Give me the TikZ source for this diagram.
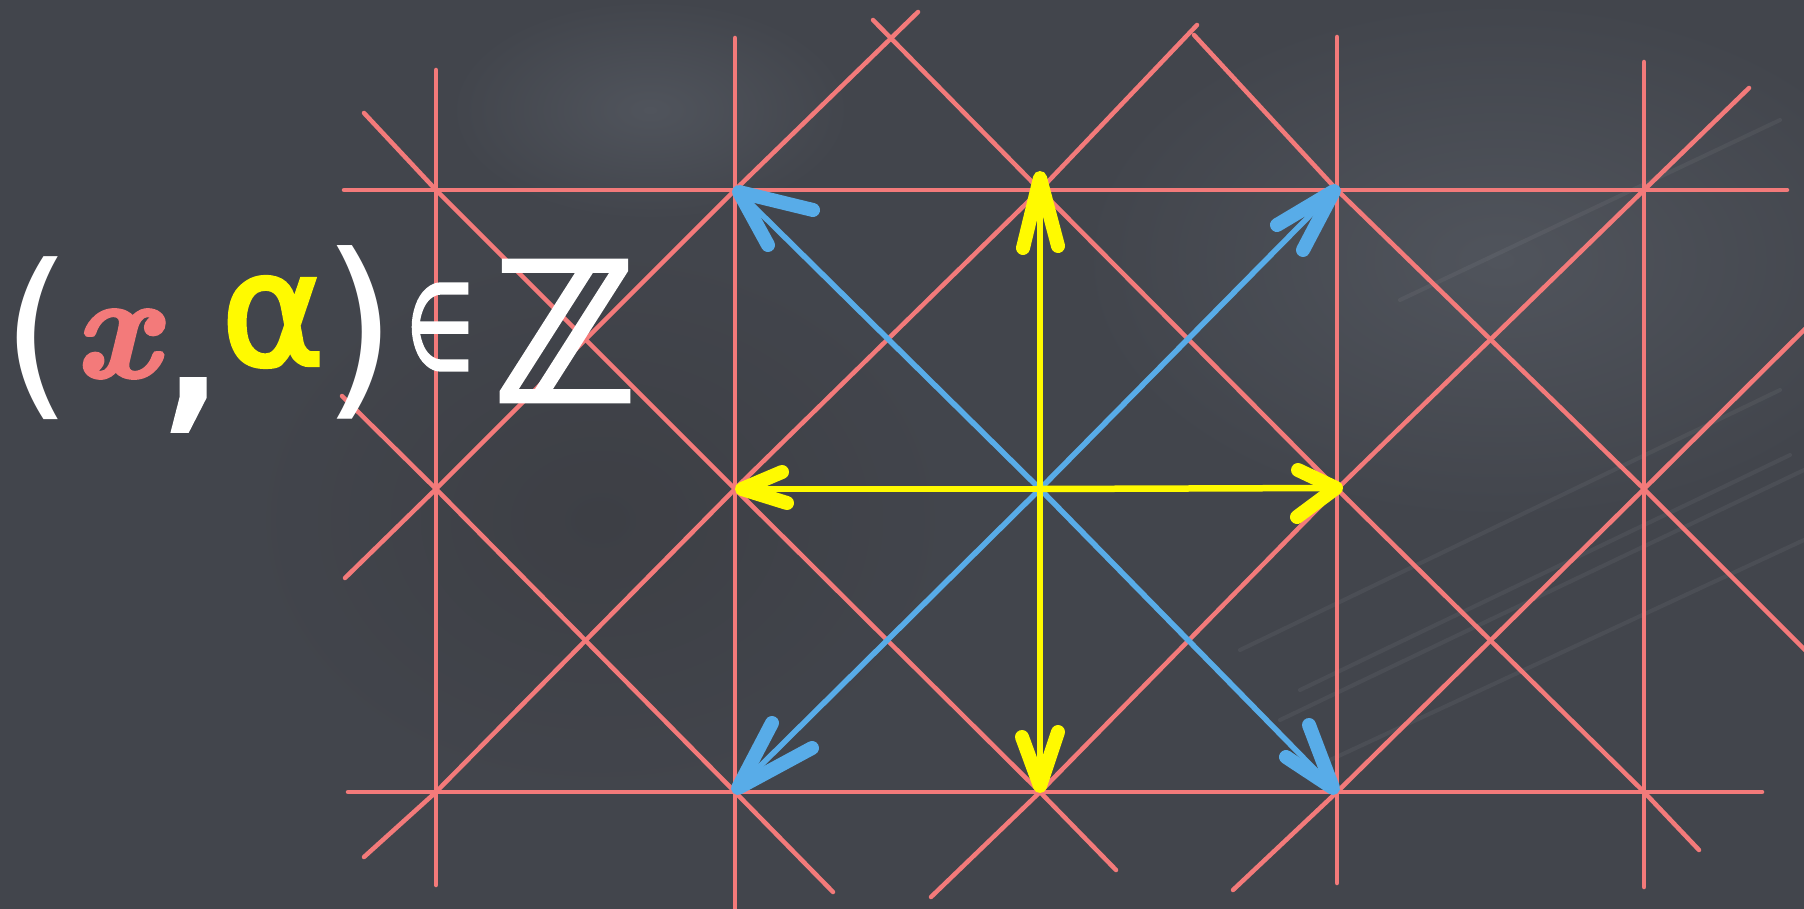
\documentclass[tikz,border=0pt]{standalone}
\usepackage{fontspec}
\usepackage{graphicx}
\usetikzlibrary{calc}
\newfontfamily\dvsans{DejaVu Sans}
\newfontfamily\dvsansfb[FakeBold=2.5]{DejaVu Sans}
\newfontfamily\lmbi[FakeBold=2.5]{lmroman10-bolditalic.otf}
\definecolor{board}{RGB}{66,69,76}
\definecolor{boardlight}{RGB}{80,84,92}
\definecolor{boarddark}{RGB}{61,63,69}
\definecolor{chalkred}{RGB}{243,122,122}
\definecolor{chalkyellow}{RGB}{255,250,0}
\definecolor{chalkblue}{RGB}{88,172,232}
\tikzset{
  redline/.style={draw=chalkred, line width=4.5pt, line cap=round, line join=round},
  blueshaft/.style={draw=chalkblue, line width=5.5pt, line cap=round},
  bluebarb/.style={draw=chalkblue, line width=14pt, line cap=round, line join=round},
  yellowshaft/.style={draw=chalkyellow, line width=6.5pt, line cap=round},
  yellowbarb/.style={draw=chalkyellow, line width=14pt, line cap=round, line join=round},
  glyph/.style={inner sep=0pt, outer sep=0pt, anchor=center, text=white},
  streak/.style={draw=white, opacity=0.05, line width=4pt, line cap=round},
}
\begin{document}
\begin{tikzpicture}[x=1pt,y=-1pt]
% board
\fill[board] (0,0) rectangle (1804,909);
\useasboundingbox (0,0) rectangle (1804,909);
\shade[inner color=boardlight, outer color=board] (1500,260) ellipse (420 and 260);
\shade[inner color=boardlight, outer color=board] (650,110) ellipse (200 and 110);
\shade[inner color=boarddark, outer color=board] (600,520) ellipse (360 and 280);
\draw[streak] (1280,720) -- (1804,470);
\draw[streak] (1330,760) -- (1804,540);
\draw[streak] (1240,650) -- (1780,390);
\draw[streak] (1300,690) -- (1790,455);
\draw[streak] (1400,300) -- (1780,120);

% lattice points
\coordinate (A1) at (436,190);  \coordinate (B1) at (735,190);  \coordinate (C1) at (1040,190);
\coordinate (D1) at (1337,190); \coordinate (E1) at (1644,190);
\coordinate (A2) at (436,489);  \coordinate (B2) at (735,489);  \coordinate (C2) at (1040,489);
\coordinate (D2) at (1337,489); \coordinate (E2) at (1644,489);
\coordinate (A3) at (436,792);  \coordinate (B3) at (735,792);  \coordinate (C3) at (1040,792);
\coordinate (D3) at (1337,792); \coordinate (E3) at (1644,792);

% free ends
\coordinate (vAt) at (436,70);   \coordinate (vAb) at (436,885);
\coordinate (vBt) at (735,38);   \coordinate (vBb) at (735,912);
\coordinate (vDt) at (1337,37);  \coordinate (vDb) at (1337,883);
\coordinate (vEt) at (1644,62);  \coordinate (vEb) at (1644,887);
\coordinate (h1l) at (344,190);  \coordinate (h1r) at (1787,190);
\coordinate (h3l) at (348,792);  \coordinate (h3r) at (1762,792);
\coordinate (s1a) at (342,396);  \coordinate (s1b) at (833,892);
\coordinate (s2a) at (364,113);  \coordinate (s2b) at (1116,870);
\coordinate (s3a) at (873,20);   \coordinate (s3b) at (1699,850);
\coordinate (s4a) at (1194,35);  \coordinate (s4b) at (1810,655);
\coordinate (f1a) at (918,12);   \coordinate (f1b) at (345,578);
\coordinate (f2a) at (1197,25);  \coordinate (f2b) at (364,857);
\coordinate (f3a) at (1749,88);  \coordinate (f3b) at (931,897);
\coordinate (f4a) at (1810,324); \coordinate (f4b) at (1233,890);

% red grid
\draw[redline] (vAt) -- (vAb);
\draw[redline] (vBt) -- (vBb);
\draw[redline] (vDt) -- (vDb);
\draw[redline] (vEt) -- (vEb);
\draw[redline] (h1l) -- (h1r);
\draw[redline] (h3l) -- (h3r);
\draw[redline] (s1a) -- (A2) -- (B3) -- (s1b);
\draw[redline] (s2a) -- (A1) -- (B2) -- (C3) -- (s2b);
\draw[redline] (s3a) -- (C1) -- (D2) -- (E3) -- (s3b);
\draw[redline] (s4a) -- (D1) -- (E2) -- (s4b);
\draw[redline] (f1a) -- (B1) -- (A2) -- (f1b);
\draw[redline] (f2a) -- (C1) -- (B2) -- (A3) -- (f2b);
\draw[redline] (f3a) -- (E1) -- (D2) -- (C3) -- (f3b);
\draw[redline] (f4a) -- (E2) -- (D3) -- (f4b);

% arrow tip positions and barb ends
\coordinate (tB1) at (739,192);   \coordinate (bB1a) at (813,210);  \coordinate (bB1b) at (768,245);
\coordinate (tD1) at (1334,191);  \coordinate (bD1a) at (1277,225); \coordinate (bD1b) at (1303,250);
\coordinate (tB3) at (738,788);   \coordinate (bB3a) at (772,723);  \coordinate (bB3b) at (812,748);
\coordinate (tD3) at (1333,788);  \coordinate (bD3a) at (1309,725); \coordinate (bD3b) at (1286,757);
\coordinate (tC1) at (1040,178);  \coordinate (bC1a) at (1023,248); \coordinate (bC1b) at (1058,246);
\coordinate (tB2) at (742,489);   \coordinate (bB2a) at (782,472);  \coordinate (bB2b) at (787,503);
\coordinate (tD2) at (1336,488);  \coordinate (bD2a) at (1298,470); \coordinate (bD2b) at (1297,517);
\coordinate (tC3) at (1040,786);  \coordinate (bC3a) at (1022,737); \coordinate (bC3b) at (1058,732);

% blue arrows
\draw[blueshaft] (C2) -- (tB1);
\draw[blueshaft] (C2) -- (tD1);
\draw[blueshaft] (C2) -- (tB3);
\draw[blueshaft] (C2) -- (tD3);
\draw[bluebarb] (bB1a) -- (tB1) -- (bB1b);
\draw[bluebarb] (bD1a) -- (tD1) -- (bD1b);
\draw[bluebarb] (bB3a) -- (tB3) -- (bB3b);
\draw[bluebarb] (bD3a) -- (tD3) -- (bD3b);

% yellow arrows
\draw[yellowshaft] (C2) -- (tB2);
\draw[yellowshaft] (C2) -- (tD2);
\draw[yellowshaft] (C2) -- (tC1);
\draw[yellowshaft] (C2) -- (tC3);
\draw[yellowbarb] (bB2a) -- (tB2) -- (bB2b);
\draw[yellowbarb] (bD2a) -- (tD2) -- (bD2b);
\draw[yellowbarb] (bC1a) -- (tC1) -- (bC1b);
\draw[yellowbarb] (bC3a) -- (tC3) -- (bC3b);

% text (x, alpha) in Z
\node[glyph] (lpar) at (37,338) {\dvsans\fontsize{183}{183}\selectfont (};
\node[glyph, text=chalkred] (xvar) at (116,344) {\lmbi\fontsize{148}{148}\selectfont x};
\node[glyph] (comma) at (191,405) {\dvsansfb\fontsize{210}{210}\selectfont ,};
\node[glyph, text=chalkyellow] (alph) at (273,322) {\dvsansfb\fontsize{158}{158}\selectfont α};
\node[glyph] (rpar) at (360,332) {\dvsans\fontsize{195}{195}\selectfont )};
\node[glyph] (elem) at (440,327) {\dvsansfb\fontsize{120}{120}\selectfont\scalebox{0.65}[1]{∈}};
\node[glyph] (intz) at (565,331) {\dvsansfb\fontsize{192}{192}\selectfont ℤ};
\end{tikzpicture}
\end{document}
